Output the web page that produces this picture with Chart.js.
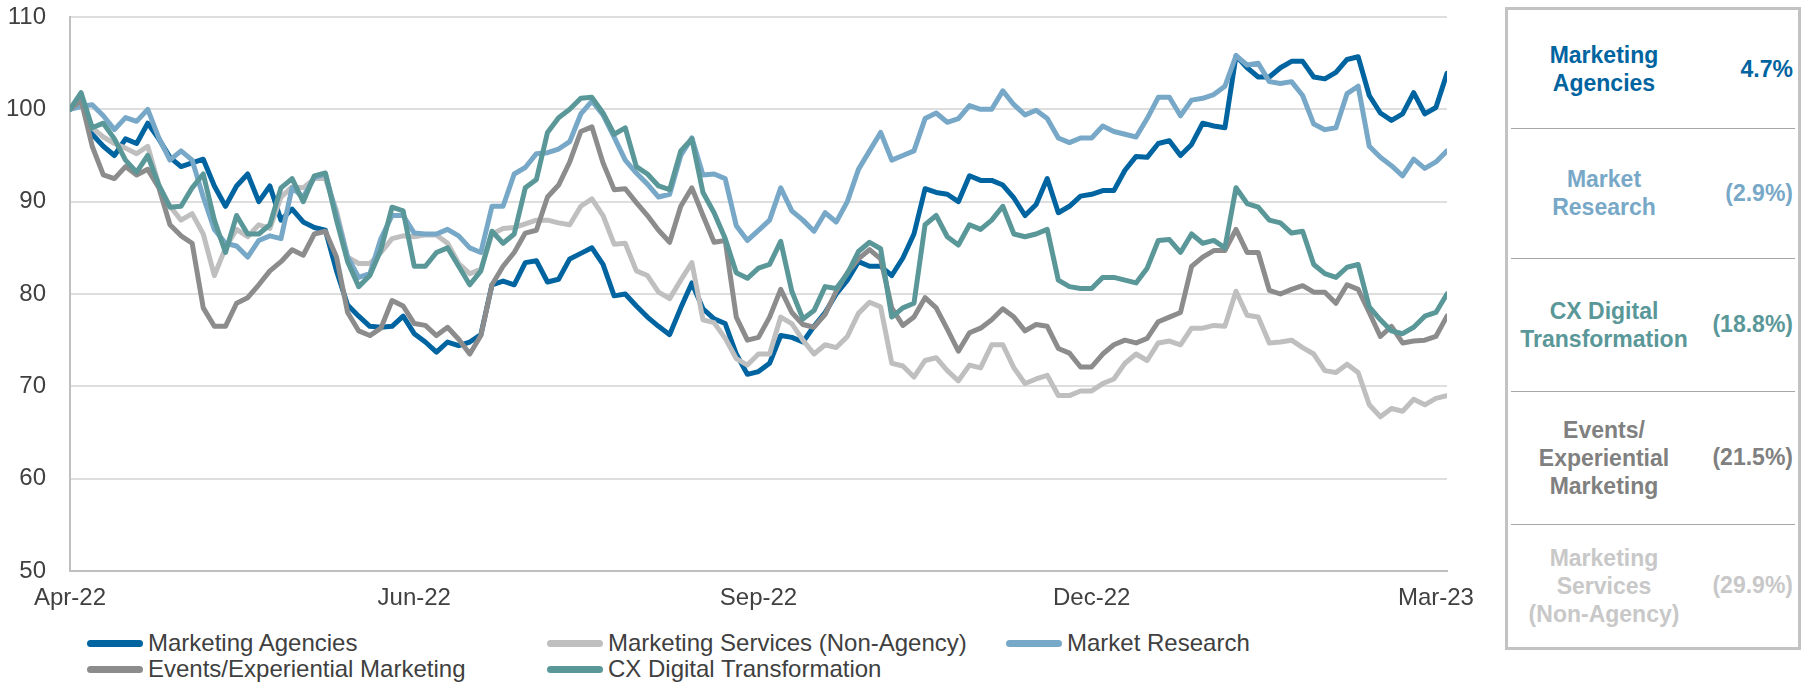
<!DOCTYPE html>
<html>
<head>
<meta charset="utf-8">
<script src="https://cdn.jsdelivr.net/npm/chart.js@4.4.0/dist/chart.umd.min.js"></script>
<style>
  body { margin: 0; background: #fff; font-family: "Liberation Sans", Arial, sans-serif; }
  #wrap { position: relative; width: 1810px; height: 684px; overflow: hidden; }
  #chartBox { position: absolute; left: 0; top: 0; width: 1486px; height: 625px; }
  #legend { position: absolute; left: 87px; top: 630px; display: grid;
            grid-template-columns: 460px 459px 300px; grid-auto-rows: 26px; }
  .lg { display: flex; align-items: center; font-size: 24px; color: #404040; white-space: nowrap; }
  .lg i { display: inline-block; flex-shrink: 0; width: 56px; height: 7px; border-radius: 4px; margin-right: 5px; }
  #panel { position: absolute; left: 1505px; top: 7px; width: 290px; height: 637px;
           border: 3px solid #C3C3C3; }
  .row { position: absolute; left: 0; width: 290px; display: flex; align-items: center; }
  .row .nm { width: 192px; text-align: center; font-weight: bold; font-size: 23px; line-height: 28px; }
  .row .pc { position: absolute; right: 5px; font-weight: bold; font-size: 23px; }
  .sep { position: absolute; left: 3px; width: 284px; height: 0; border-top: 1.5px solid #A6A6A6; }
</style>
</head>
<body>
<div id="wrap">
  <div id="chartBox"><canvas id="chart-lines"></canvas></div>
  <div id="legend"></div>
  <div id="panel"></div>
</div>
<script>
// tick labels on the x axis and the point index where each one sits
var tickLabels = ['Apr-22', 'Jun-22', 'Sep-22', 'Dec-22', 'Mar-23'];
var tickIndex = [0, 31, 62, 92, 123];

// indexed values (start = 100)
var marketingAgencies = [
  100, 101, 97.3, 96.0, 95.0, 96.8, 96.3, 98.5, 96.8, 94.8, 93.8, 94.2, 94.6, 91.7, 89.5, 91.7, 93.0, 90.0, 91.7, 88.0, 89.2, 87.8,
  87.2, 86.9, 82.5, 78.8, 77.6, 76.5, 76.4, 76.5, 77.6, 75.7, 74.8, 73.7, 74.8, 74.4, 74.8, 75.6, 81.0, 81.4, 81.0, 83.4, 83.6,
  81.3, 81.6, 83.8, 84.4, 85.0, 83.2, 79.8, 80.0, 78.7, 77.5, 76.5, 75.6, 78.5, 81.2, 78.4, 77.3, 76.8, 73.5, 71.3, 71.6,
  72.5, 75.5, 75.3, 74.8, 76.5, 78.0, 80.0, 81.5, 83.5, 83.0, 83.0, 82.0, 83.9, 86.5, 91.4, 91.0, 90.8, 90.0, 92.8, 92.3, 92.3,
  91.8, 90.4, 88.5, 89.7, 92.5, 88.8, 89.5, 90.6, 90.8, 91.2, 91.2, 93.4, 94.9, 94.8, 96.3, 96.6, 95.0, 96.2, 98.5, 98.2, 98.0,
  105.8, 104.5, 103.5, 103.5, 104.5, 105.2, 105.2, 103.5, 103.3, 104.0, 105.4, 105.7, 101.5, 99.6, 98.8, 99.5, 101.8, 99.5, 100.2, 103.9
];
var marketingServices = [
  100, 101, 98.0, 97.0, 96.3, 95.8, 95.2, 96.0, 91.8, 89.5, 88.0, 88.7, 86.5, 82.0, 85.0, 87.0, 86.2, 87.5, 87.1, 90.5, 91.6, 91.5,
  92.5, 92.5, 89.0, 84.0, 83.3, 83.3, 84.5, 86.0, 86.3, 86.2, 86.4, 86.4, 85.5, 83.3, 82.2, 82.7, 86.5, 87.1, 87.2, 87.6, 88.0,
  88.0, 87.7, 87.5, 89.5, 90.3, 88.5, 85.4, 85.5, 82.5, 82.0, 80.2, 79.5, 81.5, 83.4, 77.2, 76.9, 75.2, 73.0, 72.3, 73.5,
  73.5, 77.5, 76.8, 75.0, 73.5, 74.5, 74.2, 75.4, 77.9, 79.1, 78.6, 72.5, 72.2, 71.0, 72.8, 73.1, 71.7, 70.6, 72.3, 72.0, 74.5,
  74.5, 72.0, 70.3, 70.8, 71.2, 69.0, 69.0, 69.5, 69.5, 70.3, 70.8, 72.5, 73.5, 72.8, 74.7, 74.9, 74.5, 76.3, 76.3, 76.6, 76.5,
  80.3, 77.7, 77.5, 74.7, 74.8, 75.0, 74.2, 73.5, 71.7, 71.5, 72.4, 71.5, 68.0, 66.7, 67.6, 67.3, 68.6, 68.0, 68.7, 69.0
];
var marketResearch = [
  100, 100.3, 100.5, 99.3, 97.8, 99.1, 98.7, 100.0, 96.9, 94.5, 95.5, 94.5, 90.5, 87.0, 85.5, 85.2, 84.0, 85.8, 86.3, 86.0, 91.5, 90.5,
  92.6, 93.0, 88.5, 84.0, 81.8, 82.2, 86.0, 88.5, 88.5, 86.6, 86.5, 86.5, 87.0, 86.3, 85.0, 84.5, 89.5, 89.5, 93.0, 93.7, 95.2,
  95.3, 95.7, 96.5, 99.5, 100.9, 99.4, 97.0, 94.5, 93.1, 91.9, 90.5, 90.8, 95.0, 96.9, 92.9, 93.0, 92.5, 87.4, 85.8, 86.9,
  88.0, 91.5, 89.0, 88.0, 86.8, 88.8, 87.8, 90.0, 93.5, 95.5, 97.5, 94.5, 95.0, 95.5, 99.0, 99.6, 98.6, 99.0, 100.4, 100.0, 100.0,
  102.0, 100.5, 99.4, 99.9, 99.0, 96.9, 96.4, 96.9, 96.9, 98.2, 97.6, 97.3, 97.0, 99.0, 101.3, 101.3, 99.3, 101.0, 101.2, 101.6, 102.5,
  105.8, 104.8, 105.0, 103.0, 102.8, 103.0, 101.5, 98.4, 97.8, 98.0, 101.7, 102.5, 96.0, 94.8, 93.9, 92.8, 94.6, 93.6, 94.3, 95.5
];
var eventsExperiential = [
  100, 101, 96.0, 92.9, 92.5, 93.8, 92.9, 93.5, 91.5, 87.5, 86.3, 85.5, 78.5, 76.5, 76.5, 79.0, 79.6, 81.0, 82.5, 83.5, 84.8, 84.2,
  86.5, 86.8, 84.0, 78.0, 76.0, 75.5, 76.3, 79.3, 78.7, 76.8, 76.6, 75.5, 76.4, 75.1, 73.5, 75.5, 81.0, 83.0, 84.5, 86.6, 86.9,
  90.5, 91.8, 94.3, 97.6, 98.1, 94.2, 91.3, 91.4, 89.9, 88.5, 86.9, 85.6, 89.5, 91.5, 88.5, 85.6, 85.8, 77.5, 75.0, 75.3,
  77.5, 80.5, 78.0, 76.7, 76.4, 77.8, 80.3, 82.3, 83.8, 84.8, 83.8, 78.5, 76.6, 77.5, 79.6, 78.5, 76.2, 73.8, 75.8, 76.3, 77.2,
  78.4, 77.5, 76.0, 76.7, 76.5, 74.1, 73.6, 72.1, 72.1, 73.5, 74.5, 75.0, 74.7, 75.2, 77.0, 77.5, 78.0, 83.0, 84.0, 84.7, 84.7,
  87.0, 84.5, 84.5, 80.4, 80.0, 80.5, 80.9, 80.2, 80.2, 79.0, 81.0, 80.5, 78.0, 75.4, 76.5, 74.7, 74.9, 75.0, 75.4, 77.6
];
var cxDigital = [
  100, 101.8, 98.0, 98.5, 96.8, 94.5, 93.2, 95.0, 91.8, 89.4, 89.5, 91.5, 93.0, 88.0, 84.5, 88.5, 86.5, 86.5, 87.5, 91.5, 92.5, 90.0,
  92.8, 93.1, 88.0, 83.5, 80.8, 82.0, 84.8, 89.4, 89.0, 83.0, 83.0, 84.5, 85.0, 83.0, 81.0, 82.5, 86.8, 85.5, 86.5, 91.5, 92.4,
  97.5, 99.1, 100.0, 101.2, 101.3, 99.6, 97.3, 98.0, 93.8, 93.0, 91.7, 91.3, 95.5, 96.8, 91.0, 88.8, 86.0, 82.3, 81.7, 82.8,
  83.2, 85.7, 80.3, 77.3, 78.2, 80.8, 80.6, 82.2, 84.6, 85.6, 84.9, 77.5, 78.5, 79.0, 87.5, 88.5, 86.2, 85.3, 87.5, 87.0, 88.0,
  89.5, 86.5, 86.2, 86.5, 87.0, 81.5, 80.8, 80.6, 80.6, 81.8, 81.8, 81.5, 81.2, 82.8, 85.8, 85.9, 84.5, 86.5, 85.5, 85.8, 85.0,
  91.5, 89.8, 89.4, 88.0, 87.7, 86.6, 86.8, 83.2, 82.2, 81.8, 82.9, 83.2, 78.6, 77.2, 76.0, 75.7, 76.4, 77.6, 78.0, 80.0
];

// legend / panel text
var seriesNames = ['Marketing Agencies', 'Marketing Services (Non-Agency)', 'Market Research',
                   'Events/Experiential Marketing', 'CX Digital Transformation'];
var seriesColors = ['#0064A0', '#BFBFBF', '#78A8C7', '#8C8C8C', '#5A9798'];
var panelNames = ['Marketing<br>Agencies', 'Market<br>Research', 'CX Digital<br>Transformation',
                  'Events/<br>Experiential<br>Marketing', 'Marketing<br>Services<br>(Non-Agency)'];
var panelChanges = ['4.7%', '(2.9%)', '(18.8%)', '(21.5%)', '(29.9%)'];
var panelColors = ['#0064A0', '#78A8C7', '#5A9798', '#808080', '#C8C8C8'];

var allSeries = [marketingAgencies, marketingServices, marketResearch, eventsExperiential, cxDigital];
// later series draw on top (like the original)
var drawOrder = [4, 3, 2, 1, 0];

var datasets = allSeries.map(function (vals, k) {
  return {
    label: seriesNames[k],
    data: vals.map(function (v, i) { return { x: i, y: v }; }),
    borderColor: seriesColors[k],
    borderWidth: 5,
    pointRadius: 0,
    tension: 0,
    borderJoinStyle: 'round',
    borderCapStyle: 'round',
    order: drawOrder[k]
  };
});

var tickFont = { family: '"Liberation Sans", Arial, sans-serif', size: 24 };

var lineChart = new Chart(document.getElementById('chart-lines'), {
  type: 'line',
  data: { datasets: datasets },
  options: {
    responsive: true,
    maintainAspectRatio: false,
    animation: false,
    layout: { padding: { top: 17, right: 39, left: 0, bottom: 0 } },
    plugins: { legend: { display: false }, tooltip: { enabled: false } },
    scales: {
      x: {
        type: 'linear',
        min: 0,
        max: marketingAgencies.length - 1,
        afterBuildTicks: function (scale) {
          scale.ticks = tickIndex.map(function (v) { return { value: v }; });
        },
        afterFit: function (scale) { scale.height = 54; },
        grid: { display: false, drawTicks: true, tickLength: 13, tickColor: 'rgba(0,0,0,0)' },
        border: { display: true, color: '#BFBFBF', width: 2 },
        ticks: {
          autoSkip: false,
          maxRotation: 0,
          padding: 0,
          color: '#404040',
          font: tickFont,
          callback: function (v, i) { return tickLabels[i]; }
        }
      },
      y: {
        min: 50,
        max: 110,
        afterFit: function (scale) { scale.width = 70; },
        grid: { color: '#DEDEDE', lineWidth: 2, drawTicks: true, tickLength: 24, tickColor: 'rgba(0,0,0,0)' },
        border: { display: true, color: '#BFBFBF', width: 2 },
        ticks: {
          stepSize: 10,
          padding: 0,
          color: '#404040',
          font: tickFont
        }
      }
    }
  }
});

// legend below the chart
var legendEl = document.getElementById('legend');
seriesNames.forEach(function (name, k) {
  var d = document.createElement('div');
  d.className = 'lg';
  d.innerHTML = '<i style="background:' + seriesColors[k] + '"></i>' + name;
  legendEl.appendChild(d);
});

// summary panel on the right
var panelEl = document.getElementById('panel');
var rowTops = [0, 118, 248, 381, 514];
var rowBottoms = [118, 248, 381, 514, 637];
panelNames.forEach(function (name, k) {
  var r = document.createElement('div');
  r.className = 'row';
  r.style.top = rowTops[k] + 'px';
  r.style.height = (rowBottoms[k] - rowTops[k]) + 'px';
  r.style.color = panelColors[k];
  r.innerHTML = '<div class="nm">' + name + '</div><div class="pc">' + panelChanges[k] + '</div>';
  panelEl.appendChild(r);
  if (k > 0) {
    var s = document.createElement('div');
    s.className = 'sep';
    s.style.top = rowTops[k] + 'px';
    panelEl.appendChild(s);
  }
});
</script>
</body>
</html>
